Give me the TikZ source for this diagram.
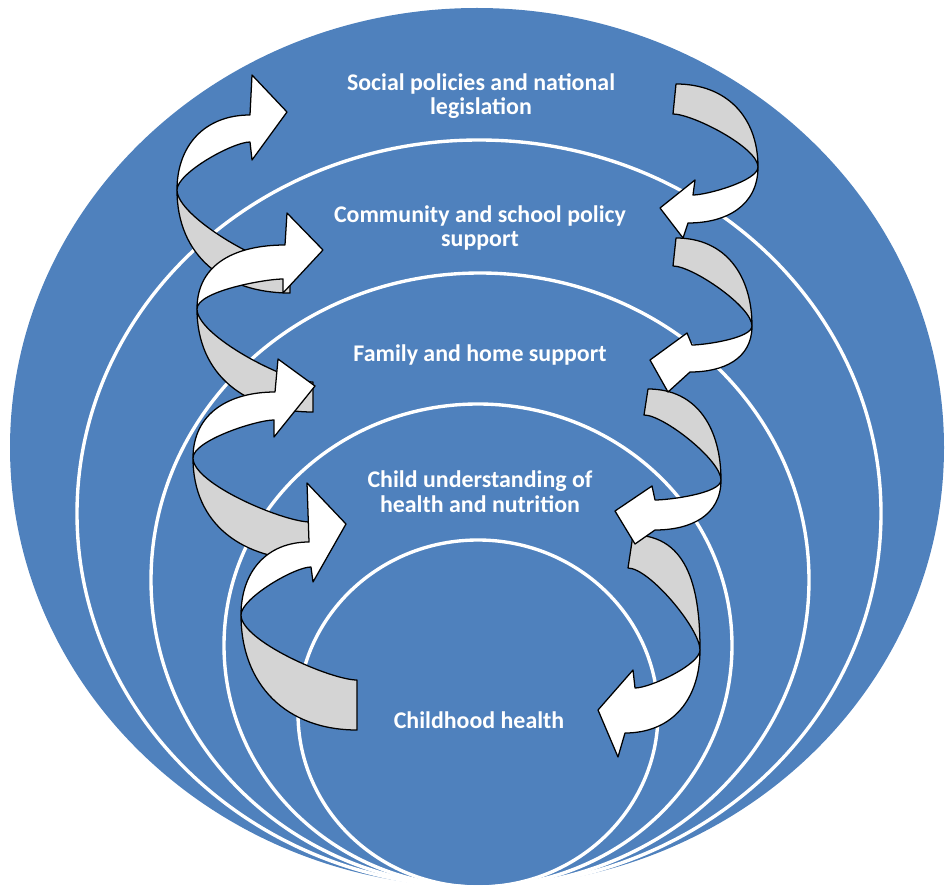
\documentclass[tikz,border=0pt]{standalone}
\usepackage{fontspec}
\setmainfont{Carlito}
\usetikzlibrary{positioning}
\definecolor{ringblue}{RGB}{79,129,189}
\definecolor{ribbongrey}{RGB}{212,212,212}

\begin{document}
\begin{tikzpicture}[x=0.025cm, y=0.025cm,
  ring/.style={draw=white, line width=2.4pt},
  front/.style={draw=black, fill=white, line width=0.9pt, line join=round},
  back/.style={draw=black, fill=ribbongrey, line width=0.9pt, line join=round},
  level/.style={text=white, align=center, font=\bfseries\fontsize{17}{17.5}\selectfont}]

\useasboundingbox (0,0) rectangle (947,-893);

% Draw the nested levels
\fill[ringblue] (477,-447.5) ellipse [x radius=467, y radius=439.5];
\draw[ring] (479,-513.5) ellipse [x radius=402, y radius=373.5];
\draw[ring] (480,-580) ellipse [x radius=329, y radius=307];
\draw[ring] (478,-645.5) ellipse [x radius=254, y radius=241.5];
\draw[ring] (478,-713.5) ellipse [x radius=180, y radius=173.5];

% Add the labels of the levels
\node[level] (social) at (481,-96) {Social policies and national\\legislation};
\node[level] (community) at (480,-228) {Community and school policy\\support};
\node[level] (family) at (480,-355) {Family and home support};
\node[level] (child) at (480,-492) {Child understanding of\\health and nutrition};
\node[level] (health) at (479,-720) {Childhood health};

% Back sides of the ribbons (left side, going down)
\draw[back] (177,-190) to[out=-90,in=180,looseness=1.1] (290,-293) -- (290,-266) to[out=180,in=-90,looseness=0.5] (177,-190) -- cycle;
\draw[back] (197,-309) to[out=-90,in=180,looseness=1.1] (313,-412) -- (313,-382) to[out=180,in=-90,looseness=0.5] (197,-309) -- cycle;
\draw[back] (193,-458) to[out=-90,in=180,looseness=1.1] (310,-560) -- (310,-522) to[out=180,in=-90,looseness=0.5] (193,-458) -- cycle;
\draw[back] (241,-615) to[out=-90,in=180,looseness=1.1] (357,-730) -- (357,-680) to[out=180,in=-90,looseness=0.5] (241,-615) -- cycle;

% Back sides of the ribbons (right side, going down)
\draw[back] (758,-167) to[out=90,in=0,looseness=1.1] (676,-84) -- (673,-114) to[out=0,in=90,looseness=0.5] (758,-167) -- cycle;
\draw[back] (752,-326) to[out=90,in=0,looseness=1.1] (676,-238) -- (673,-266) to[out=0,in=90,looseness=0.5] (752,-326) -- cycle;
\draw[back] (721,-480) to[out=90,in=0,looseness=1.1] (648,-389) -- (644,-415) to[out=0,in=90,looseness=0.5] (721,-480) -- cycle;
\draw[back] (700,-650) to[out=90,in=0,looseness=1.1] (633,-535) -- (628,-568) to[out=0,in=90,looseness=0.5] (700,-650) -- cycle;

% Front sides with the heads (left side, pointing right)
\draw[front] (177,-190) to[out=90,in=180,looseness=1.1] (250,-115) -- (252,-75) -- (287,-112) -- (252,-160) -- (250,-142) to[out=180,in=90,looseness=0.5] (177,-190) -- cycle;
\draw[front] (197,-309) to[out=90,in=180,looseness=1.1] (285,-245) -- (287,-213) -- (323,-250) -- (283,-293) -- (283,-279) to[out=180,in=90,looseness=0.5] (197,-309) -- cycle;
\draw[front] (193,-458) to[out=90,in=180,looseness=1.1] (275,-392) -- (278,-359) -- (315,-386) -- (274,-437) -- (274,-420) to[out=180,in=90,looseness=0.5] (193,-458) -- cycle;
\draw[front] (241,-615) to[out=90,in=180,looseness=1.1] (309,-542) -- (307,-483) -- (346,-524) -- (313,-582) -- (311,-567) to[out=180,in=90,looseness=0.5] (241,-615) -- cycle;

% Front sides with the heads (right side, pointing left)
\draw[front] (758,-167) to[out=-90,in=0,looseness=1.1] (688,-223) -- (683,-238) -- (660,-208) -- (695,-180) -- (693,-195) to[out=0,in=-90,looseness=0.5] (758,-167) -- cycle;
\draw[front] (752,-326) to[out=-90,in=0,looseness=1.1] (690,-372) -- (668,-392) -- (650,-360) -- (687,-333) -- (692,-345) to[out=0,in=-90,looseness=0.5] (752,-326) -- cycle;
\draw[front] (721,-480) to[out=-90,in=0,looseness=1.1] (655,-530) -- (635,-544) -- (615,-511) -- (652,-486) -- (655,-500) to[out=0,in=-90,looseness=0.5] (721,-480) -- cycle;
\draw[front] (700,-650) to[out=-90,in=0,looseness=1.1] (625,-733) -- (618,-757) -- (598,-710) -- (633,-670) -- (635,-688) to[out=0,in=-90,looseness=0.5] (700,-650) -- cycle;

\end{tikzpicture}
\end{document}
